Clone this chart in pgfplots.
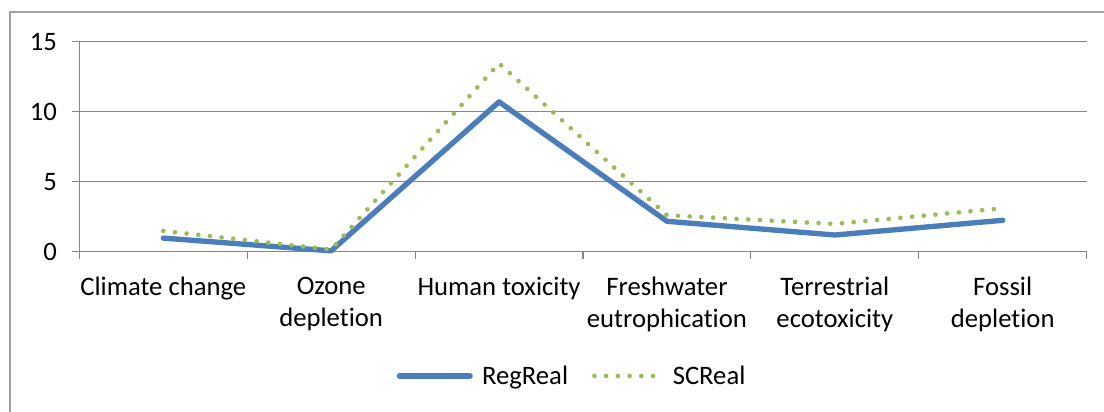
\documentclass[border=0pt]{standalone}
\usepackage{pgfplots}
\pgfplotsset{compat=1.18}
\usepackage{fontspec}
\setmainfont{Carlito}[Ligatures={NoCommon}]
\definecolor{regblue}{HTML}{4A7EBB}
\definecolor{scgreen}{HTML}{9BBB59}
\definecolor{axgray}{HTML}{868686}
\definecolor{framegray}{HTML}{A0A0A0}
\pgfplotsset{
  reglegend/.style={legend image code/.code={\draw[##1] (0pt,0pt) -- (53pt,0pt); \path (58pt,0pt);}},
  sclegend/.style={legend image code/.code={\draw[##1] (0pt,0pt) -- (45pt,0pt); \path (55pt,0pt);}},
}
\begin{document}
\begin{tikzpicture}
\useasboundingbox (0,0) rectangle (828pt,308.25pt);
\draw[framegray, line width=1.2pt] (7.5pt,-5pt) -- (7.5pt,299.25pt) -- (840pt,299.25pt);
\begin{axis}[
  at={(59.5pt,119.5pt)}, anchor=south west,
  scale only axis, width=755.5pt, height=157.5pt,
  xmin=-0.5, xmax=5.5, ymin=0, ymax=15,
  axis x line=bottom, axis y line=left,
  axis line style={axgray, line width=0.9pt, -},
  xtick={0,1,2,3,4,5},
  xticklabels={Climate change, Ozone\\depletion, Human toxicity, Freshwater\\eutrophication, Terrestrial\\ecotoxicity, Fossil\\depletion},
  minor xtick={-0.5,0.5,1.5,2.5,3.5,4.5,5.5},
  major x tick style={draw=none},
  minor tick length=5.25pt,
  minor x tick style={axgray, line width=0.9pt},
  ytick={0,5,10,15},
  major tick length=5.25pt,
  tick align=outside,
  y tick style={axgray, line width=0.9pt},
  ymajorgrids, grid style={axgray, line width=0.9pt},
  /pgf/number format/assume math mode=true,
  tick label style={font=\fontsize{20}{24}\selectfont, text=black},
  xticklabel style={align=center, anchor=north, yshift=-10pt},
  yticklabel style={xshift=-8pt},
  legend style={draw=none, fill=none, at={(0.4895,-0.592)}, anchor=center,
    legend columns=2, font=\fontsize{20}{24}\selectfont,
    /tikz/every even column/.append style={column sep=16pt},
    inner sep=0pt},
  clip=false,
]
\addplot[regblue, line width=4pt, line join=round, line cap=round, reglegend] coordinates {
  (0,0.97) (1,0.06) (2,10.7) (3,2.17) (4,1.19) (5,2.24)};
\addlegendentry{RegReal}
\addplot[scgreen, line width=3.5pt, line cap=round, dash pattern=on 0pt off 8.8pt, sclegend] coordinates {
  (0,1.48) (1,0.15) (2,13.45) (3,2.6) (4,1.98) (5,3.1)};
\addlegendentry{SCReal}
\end{axis}
\end{tikzpicture}
\end{document}
